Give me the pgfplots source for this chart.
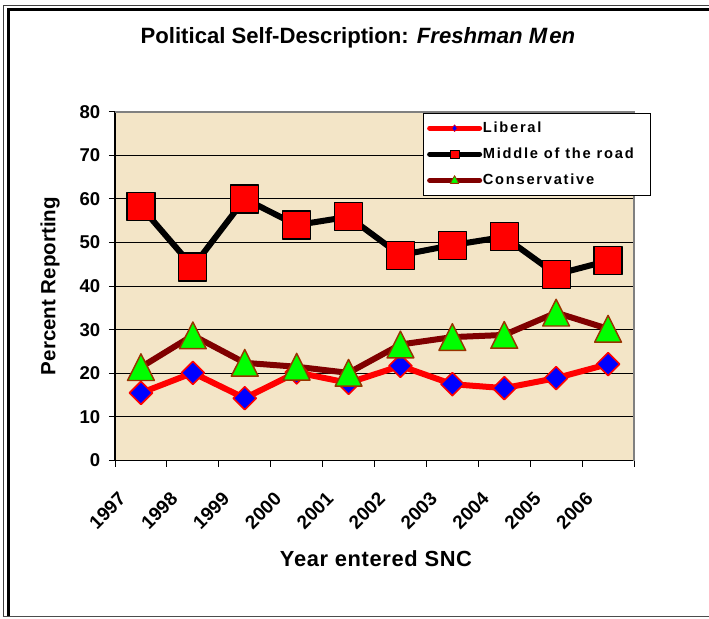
\documentclass[border=0pt]{standalone}
\usepackage{fontspec}
\setmainfont{Liberation Sans}
\newfontfamily\legfont[LetterSpace=12]{Liberation Sans}
\newfontfamily\xlabfont[LetterSpace=3]{Liberation Sans}
\usepackage{pgfplots}
\pgfplotsset{compat=1.18}
\definecolor{parch}{RGB}{243,229,199}
\definecolor{consred}{RGB}{128,0,0}
\definecolor{tribrown}{RGB}{153,51,0}
\definecolor{libblue}{RGB}{0,0,255}
\begin{document}
\begin{tikzpicture}
\useasboundingbox (0,0) rectangle (531.75pt,463.5pt);
\fill[white] (0,0) rectangle (531.75pt,463.5pt);
\draw[black!75, line width=0.75pt] (2.625pt,1.125pt) -- (2.625pt,459pt) -- (531.75pt,459pt);
\draw[black, line width=2.25pt] (6pt,1.125pt) -- (6pt,456pt) -- (531.75pt,456pt);
\draw[black!70, line width=1.2pt] (2pt,1.125pt) -- (531.75pt,1.125pt);
\begin{axis}[
  at={(86.25pt,118.125pt)}, anchor=south west, scale only axis,
  width=389.25pt, height=261.6pt,
  xmin=0, xmax=10, ymin=0, ymax=80,
  axis x line*=bottom, axis y line*=left,
  axis line style={black, line width=0.9pt},
  axis background/.style={fill=parch},
  after end axis/.code={\draw[black!50, line width=1.5pt] (rel axis cs:0,1) -- (rel axis cs:1,1) -- (rel axis cs:1,0);},
  ymajorgrids, grid style={black, line width=0.7pt},
  ytick={0,10,20,30,40,50,60,70,80},
  xtick={0.5,1.5,2.5,3.5,4.5,5.5,6.5,7.5,8.5,9.5},
  xticklabels={1997,1998,1999,2000,2001,2002,2003,2004,2005,2006},
  minor xtick={0,1,2,3,4,5,6,7,8,9,10},
  tick align=outside, major tick length=4.5pt, minor tick length=4.5pt,
  major x tick style={draw=none},
  minor x tick style={black, line width=0.75pt},
  major y tick style={black, line width=0.75pt},
  /pgf/number format/assume math mode=true,
  y tick label style={xshift=-3pt, font=\bfseries\fontsize{13.9}{15}\selectfont},
  x tick label style={xshift=-11.5pt, yshift=-19.5pt, rotate=45, anchor=east, font=\bfseries\fontsize{14.2}{15}\selectfont},
  xlabel={Year entered SNC},
  ylabel={Percent Reporting},
  every axis x label/.style={at={(axis description cs:0.5029,-0.3053)}, anchor=base, font=\xlabfont\bfseries\fontsize{16.4}{18}\selectfont},
  every axis y label/.style={at={(axis description cs:-0.1252,0.5)}, rotate=90, anchor=center, font=\bfseries\fontsize{15.4}{17}\selectfont},
  title={Political Self-Description: \textit{Freshman M\kern1.5pt en}},
  every axis title/.style={at={(axis description cs:0.468,1.196)}, anchor=base, font=\bfseries\fontsize{16.6}{18}\selectfont},
  legend style={at={(0.5934,0.997)}, anchor=north west, draw=black, line width=0.75pt, fill=white,
     font=\legfont\bfseries\fontsize{11}{12}\selectfont, inner xsep=2.75pt, inner ysep=4.5pt, row sep=6.1pt,
     nodes={inner xsep=0.5pt}},
  legend cell align=left,
]
\addplot[red, line width=4.5pt, line join=round,
  mark=square*, mark size=6.1pt,
  mark options={rotate=45, fill=libblue, draw=red, line width=1.2pt},
  legend image code/.code={
    \draw[red, line width=3.75pt, line cap=round] (1.9pt,0pt) -- (39.4pt,0pt);
    \fill[libblue, draw=red, line width=0.4pt] (20.6pt,2.6pt) -- (22.6pt,0pt) -- (20.6pt,-2.6pt) -- (18.6pt,0pt) -- cycle;}]
  coordinates {(0.5,15.5)(1.5,20.1)(2.5,14.3)(3.5,20.2)(4.5,17.8)(5.5,21.7)(6.5,17.5)(7.5,16.6)(8.5,18.9)(9.5,22.1)};
\addlegendentry{Liberal}
\addplot[black, line width=4.5pt, line join=round,
  mark=square*, mark size=10.5pt,
  mark options={fill=red, draw=black, line width=0.9pt},
  legend image code/.code={
    \draw[black, line width=3.75pt, line cap=round] (1.9pt,0pt) -- (39.4pt,0pt);
    \fill[red, draw=black, line width=0.6pt] (17.3pt,-3.3pt) rectangle (23.9pt,3.3pt);}]
  coordinates {(0.5,58.2)(1.5,44.4)(2.5,60.0)(3.5,54.0)(4.5,55.9)(5.5,47.1)(6.5,49.4)(7.5,51.3)(8.5,42.7)(9.5,45.8)};
\addlegendentry{Middle of the road\hspace*{9.5pt}}
\addplot[consred, line width=4.5pt, line join=round,
  mark=triangle*, mark size=11.6pt,
  mark options={yshift=-3.3pt, yscale=1.15, fill=green, draw=tribrown, line width=1.1pt},
  legend image code/.code={
    \draw[consred, line width=3.75pt, line cap=round] (1.9pt,0pt) -- (39.4pt,0pt);
    \fill[green, draw=tribrown, line width=0.6pt] (20.6pt,3.6pt) -- (23.8pt,-2.2pt) -- (17.4pt,-2.2pt) -- cycle;}]
  coordinates {(0.5,21.4)(1.5,28.7)(2.5,22.4)(3.5,21.5)(4.5,20.1)(5.5,26.6)(6.5,28.3)(7.5,28.8)(8.5,33.9)(9.5,30.2)};
\addlegendentry{Conservative}
\end{axis}
\end{tikzpicture}
\end{document}
